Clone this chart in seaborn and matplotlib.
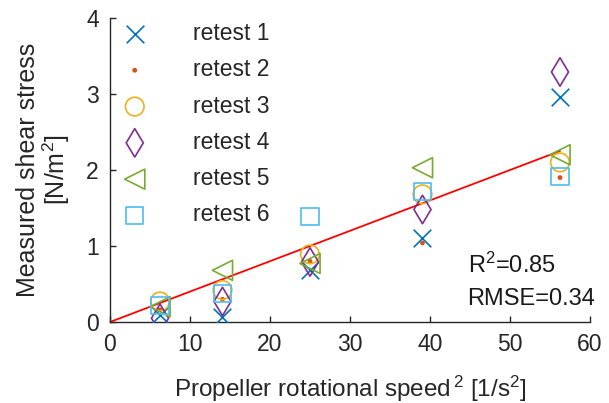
import numpy as np
import pandas as pd
import matplotlib
matplotlib.use("Agg")
import matplotlib.pyplot as plt
import seaborn as sns

# squared propeller speeds (1/s^2)
speed_sq = [6.25, 14.06, 25.0, 39.06, 56.25]

retest_1 = [0.09, 0.07, 0.69, 1.11, 2.96]
retest_2 = [0.16, 0.30, 0.80, 1.04, 1.90]
retest_3 = [0.27, 0.42, 0.89, 1.68, 2.10]
retest_4 = [0.05, 0.27, 0.79, 1.48, 3.29]
retest_5 = [0.20, 0.68, 0.77, 2.03, 2.20]
retest_6 = [0.22, 0.38, 1.39, 1.72, 1.91]

labels = ["retest 1", "retest 2", "retest 3", "retest 4", "retest 5", "retest 6"]
series = [retest_1, retest_2, retest_3, retest_4, retest_5, retest_6]

fit_x = [0, 56.25]
fit_y = [0, 2.25]

colors = ["#0072BD", "#D95319", "#EDB120", "#7E2F8E", "#77AC30", "#4DBEEE"]
markers = ["x", "o", "o", "d", "<", "s"]
sizes = [160, 12, 180, 210, 210, 150]

sns.set_style("ticks")
plt.rcParams["font.family"] = ["Liberation Sans", "DejaVu Sans"]
plt.rcParams["mathtext.default"] = "regular"
plt.rcParams["xtick.direction"] = "in"
plt.rcParams["ytick.direction"] = "in"

fig = plt.figure(figsize=(6.09, 4.03), dpi=100)
ax = fig.add_axes([110 / 609, 1 - 322 / 403, 480 / 609, 304 / 403])

for lab, vals, c, m, s in zip(labels, series, colors, markers, sizes):
    df = pd.DataFrame({"x": speed_sq, "y": vals})
    if lab == "retest 2":
        sns.scatterplot(data=df, x="x", y="y", marker=m, s=s, color=c,
                        edgecolor="none", label=lab, ax=ax, zorder=3)
    elif m == "x":
        sns.scatterplot(data=df, x="x", y="y", marker=m, s=s, color=c,
                        linewidth=1.2, label=lab, ax=ax, zorder=3)
    else:
        sns.scatterplot(data=df, x="x", y="y", marker=m, s=s, facecolors="none",
                        edgecolor=c, linewidth=1.2, label=lab, ax=ax, zorder=3)

sns.lineplot(x=fit_x, y=fit_y, color="red", linewidth=1.3, ax=ax, zorder=2)

ax.set_xlim(0, 60)
ax.set_ylim(0, 4)
ax.set_xticks(range(0, 61, 10))
ax.set_yticks(range(0, 5))
sns.despine(ax=ax)
for sp in ["left", "bottom"]:
    ax.spines[sp].set_color("#262626")
    ax.spines[sp].set_linewidth(1.0)
ax.tick_params(labelsize=16.5, colors="#262626", length=4, width=1, pad=8)

ax.set_xlabel("Propeller rotational speed$^{\\,2}$ [1/s$^2$]", fontsize=17.5,
              color="#262626", labelpad=13)
ax.set_ylabel("Measured shear stress\n[N/m$^2$]", fontsize=18,
              color="#262626", labelpad=10, linespacing=1.05)

ax.text(0.745, 0.185, "R$^2$=0.85", transform=ax.transAxes, fontsize=17,
        color="#1a1a1a", va="center")
ax.text(0.745, 0.075, "RMSE=0.34", transform=ax.transAxes, fontsize=17,
        color="#1a1a1a", va="center")

leg = ax.legend(loc="upper left", bbox_to_anchor=(0, 1.017), frameon=False,
                fontsize=16.5, handlelength=1.36, handletextpad=1.88,
                labelspacing=0.58, borderaxespad=0)

fig.savefig("out.png", dpi=100)
